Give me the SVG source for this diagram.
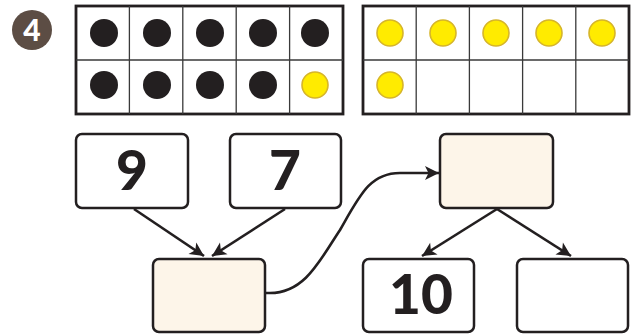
<svg xmlns="http://www.w3.org/2000/svg" width="637" height="336" viewBox="0 0 637 336">
<style>
.frame{fill:#fff;stroke:#231f20;stroke-width:2.8}
.grid{stroke:#3a3a3a;stroke-width:1.3;fill:none}
.blk{fill:#231f20}
.yel{fill:#ffeb00;stroke:#d6b52a;stroke-width:1.6}
.box{fill:#fff;stroke:#231f20;stroke-width:2.5}
.beige{fill:#fdf5e9;stroke:#231f20;stroke-width:2.5}
.num{font-family:Lato,"Liberation Sans",sans-serif;font-weight:900;font-size:55px;fill:#231f20;text-anchor:middle}
.conn{fill:none;stroke:#231f20;stroke-width:2.6}
</style>
<defs>
<marker id="ah" markerUnits="userSpaceOnUse" markerWidth="18" markerHeight="16" refX="14" refY="0" viewBox="-1 -8 17 16" orient="auto">
<path d="M0,-7 L14,0 L0,7 L3.5,0 Z" fill="#231f20"/>
</marker>
</defs>
<rect width="637" height="336" fill="#fff"/>
<g id="badge">
<circle cx="32" cy="30" r="20" fill="#5c4d44"/>
<text x="32" y="40.5" font-family="Lato,'Liberation Sans',sans-serif" font-weight="900" font-size="30" fill="#fff" text-anchor="middle">4</text>
</g>
<g id="frame-left">
<rect class="frame" x="76" y="6" width="267" height="108"/>
<path class="grid" d="M129.4,6V114M182.8,6V114M236.2,6V114M289.6,6V114M76,60H343"/>
<circle class="blk" cx="104" cy="33" r="14"/>
<circle class="blk" cx="157" cy="33" r="14"/>
<circle class="blk" cx="210" cy="33" r="14"/>
<circle class="blk" cx="263" cy="33" r="14"/>
<circle class="blk" cx="315" cy="33" r="14"/>
<circle class="blk" cx="104" cy="85" r="14"/>
<circle class="blk" cx="157" cy="85" r="14"/>
<circle class="blk" cx="210" cy="85" r="14"/>
<circle class="blk" cx="263" cy="85" r="14"/>
<circle class="yel" cx="315" cy="85" r="13"/>
</g>
<g id="frame-right">
<rect class="frame" x="363" y="6" width="266" height="108"/>
<path class="grid" d="M416.2,6V114M469.4,6V114M522.6,6V114M575.8,6V114M363,60H629"/>
<circle class="yel" cx="390" cy="33" r="13"/>
<circle class="yel" cx="443" cy="33" r="13"/>
<circle class="yel" cx="496" cy="33" r="13"/>
<circle class="yel" cx="549" cy="33" r="13"/>
<circle class="yel" cx="602" cy="33" r="13"/>
<circle class="yel" cx="390" cy="85" r="13"/>
</g>
<g id="connectors">
<path class="conn" d="M134,209 L204,256" marker-end="url(#ah)"/>
<path class="conn" d="M285,209 L212,256" marker-end="url(#ah)"/>
<path class="conn" d="M265,293 L270,293 C305,293 320,260 340,230 C360,195 370,173 400,173 L439,173" marker-end="url(#ah)"/>
<path class="conn" d="M497,209 L422,256" marker-end="url(#ah)"/>
<path class="conn" d="M497,209 L571,256" marker-end="url(#ah)"/>
</g>
<g id="node-9">
<rect class="box" x="76" y="134" width="112" height="74" rx="6"/>
<text class="num" x="132" y="190">9</text>
</g>
<g id="node-7">
<rect class="box" x="230" y="134" width="111" height="74" rx="6"/>
<text class="num" x="285" y="190">7</text>
</g>
<g id="node-sum">
<rect class="beige" x="153" y="259" width="112" height="73" rx="6"/>
</g>
<g id="node-top">
<rect class="beige" x="440" y="134" width="113" height="74" rx="6"/>
</g>
<g id="node-10">
<rect class="box" x="363" y="259" width="111" height="73" rx="6"/>
<text class="num" x="421" y="314">10</text>
</g>
<g id="node-empty">
<rect class="box" x="517" y="259" width="111" height="73" rx="6"/>
</g>
</svg>
